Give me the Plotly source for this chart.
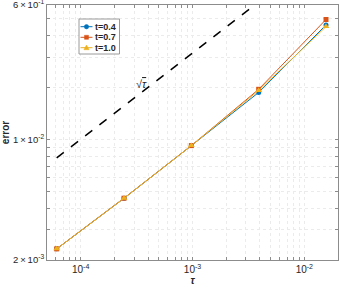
import plotly.graph_objects as go

tau = [2**-14, 2**-12, 2**-10, 2**-8, 2**-6]
err_t04 = [2.32e-3, 4.56e-3, 9.2e-3, 1.87e-2, 4.6e-2]
err_t07 = [2.32e-3, 4.56e-3, 9.2e-3, 1.95e-2, 4.95e-2]
err_t10 = [2.32e-3, 4.56e-3, 9.2e-3, 1.92e-2, 4.5e-2]
ref_sqrt = [t ** 0.5 for t in tau]
series_names = ["t=0.4", "t=0.7", "t=1.0"]
series_colors = ["#0072BD", "#D95319", "#EDB120"]

x_ticks = [5e-5, 6e-5, 7e-5, 8e-5, 9e-5,
           1e-4, 2e-4, 3e-4, 4e-4, 5e-4, 6e-4, 7e-4, 8e-4, 9e-4,
           1e-3, 2e-3, 3e-3, 4e-3, 5e-3, 6e-3, 7e-3, 8e-3, 9e-3,
           1e-2, 2e-2]
x_labels = {1e-4: "10<sup>-4</sup>", 1e-3: "10<sup>-3</sup>", 1e-2: "10<sup>-2</sup>"}
y_ticks = [2e-3, 3e-3, 4e-3, 5e-3, 6e-3, 7e-3, 8e-3, 9e-3,
           1e-2, 2e-2, 3e-2, 4e-2, 5e-2, 6e-2]
y_labels = {2e-3: "2\u2009×\u200910<sup>-3</sup>", 1e-2: "1\u2009×\u200910<sup>-2</sup>",
            6e-2: "6\u2009×\u200910<sup>-1</sup>"}

# figure geometry (pixels)
W, H = 339, 291
ML, MR, MT, MB = 47, 1, 5, 31
PW, PH = W - ML - MR, H - MT - MB


def px(xp):
    return (xp - ML) / PW


def py(yp):
    return (H - MB - yp) / PH


fig = go.Figure()
fig.add_trace(go.Scatter(x=tau, y=ref_sqrt, mode="lines", showlegend=False,
                         line=dict(color="black", width=1.5, dash="dash")))
symbols = ["circle", "square", "triangle-up"]
for name, vals, col, sym in zip(series_names, [err_t04, err_t07, err_t10], series_colors, symbols):
    fig.add_trace(go.Scatter(x=tau, y=vals, mode="lines+markers", name=name, showlegend=False,
                             line=dict(color=col, width=1),
                             marker=dict(symbol=sym, size=5 if sym != "triangle-up" else 6, color=col)))

fig.add_annotation(x=-3.46, y=-1.677, xref="x", yref="y",
                   text="√<span style='text-decoration:overline'><i>τ</i></span>",
                   showarrow=False, font=dict(size=11, color="#262626"))

# custom compact legend (MATLAB style)
fig.add_shape(type="rect", xref="paper", yref="paper",
              x0=px(79), x1=px(119.5), y0=py(19), y1=py(54),
              line=dict(color="#9a9a9a", width=1), fillcolor="white", layer="above")
row_y = [26.7, 37.3, 47.7]
for i, (name, col, sym) in enumerate(zip(series_names, series_colors, symbols)):
    yy = row_y[i]
    fig.add_shape(type="line", xref="paper", yref="paper",
                  x0=px(80.5), x1=px(92.5), y0=py(yy), y1=py(yy),
                  line=dict(color=col, width=1), layer="above")
    cx = 86.5
    if sym == "circle":
        fig.add_shape(type="circle", xref="paper", yref="paper",
                      x0=px(cx - 2.2), x1=px(cx + 2.2), y0=py(yy + 2.2), y1=py(yy - 2.2),
                      fillcolor=col, line=dict(color=col, width=0.5), layer="above")
    elif sym == "square":
        fig.add_shape(type="rect", xref="paper", yref="paper",
                      x0=px(cx - 2), x1=px(cx + 2), y0=py(yy + 2), y1=py(yy - 2),
                      fillcolor=col, line=dict(color=col, width=0.5), layer="above")
    else:
        path = "M {} {} L {} {} L {} {} Z".format(px(cx - 2.6), py(yy + 2), px(cx + 2.6), py(yy + 2),
                                                  px(cx), py(yy - 2.6))
        fig.add_shape(type="path", xref="paper", yref="paper", path=path,
                      fillcolor=col, line=dict(color=col, width=0.5), layer="above")
    fig.add_annotation(x=px(93), y=py(yy), xref="paper", yref="paper", xanchor="left",
                       yanchor="middle", text="<b>" + name + "</b>", showarrow=False,
                       font=dict(family="Liberation Sans, Arial", size=9, color="#262626"))

axis_common = dict(type="log", showline=True, linecolor="#8c8c8c", linewidth=1,
                   mirror="allticks", ticks="inside", ticklen=3, tickcolor="#8c8c8c",
                   showgrid=True, gridcolor="#ebebeb", griddash="dot", gridwidth=1,
                   zeroline=False, automargin=False, ticklabeloverflow="allow",
                   tickfont=dict(family="Liberation Sans, Arial", size=10, color="#262626"))

fig.update_xaxes(range=[-4.301, -1.699], tickmode="array", tickvals=x_ticks,
                 ticktext=[x_labels.get(v, "") for v in x_ticks],
                 title=dict(text="<b><i>τ</i></b>", standoff=2,
                            font=dict(family="Liberation Sans, Arial", size=10, color="#262626")),
                 **axis_common)
fig.update_yaxes(range=[-2.699, -1.2215], tickmode="array", tickvals=y_ticks,
                 ticktext=[y_labels.get(v, "") for v in y_ticks],
                 title=dict(text="<b>error</b>", standoff=2,
                            font=dict(family="Liberation Sans, Arial", size=10, color="#262626")),
                 **axis_common)
fig.update_yaxes(tickfont=dict(size=9.5))

fig.update_layout(width=W, height=H,
                  margin=dict(l=ML, r=MR, t=MT, b=MB, autoexpand=False),
                  paper_bgcolor="white", plot_bgcolor="white", showlegend=False,
                  font=dict(family="Liberation Sans, Arial", size=10, color="#262626"))

fig.write_html("out.html", config={"displayModeBar": False},
               post_script="document.body.style.margin='0';")
